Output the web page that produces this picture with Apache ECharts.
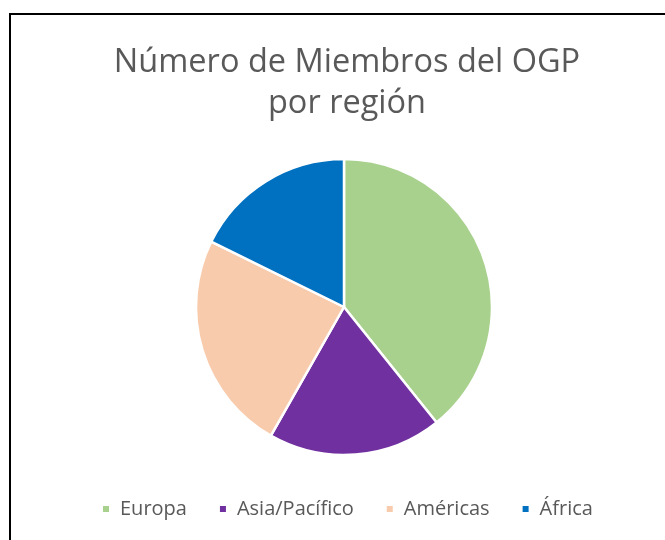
<!DOCTYPE html>
<html>
<head>
<meta charset="utf-8">
<script src="https://cdn.jsdelivr.net/npm/echarts@6/dist/echarts.min.js"></script>
<style>
html,body{margin:0;padding:0;background:#fff;}
#chart{width:665px;height:540px;}
</style>
</head>
<body>
<div id="chart"></div>
<script>
var categories = ["Europa", "Asia/Pacífico", "Américas", "África"];
var values = [31, 15, 19, 14];
var colors = ["#A9D18E", "#7030A0", "#F8CBAD", "#0070C0"];
var titleText = "Número de Miembros del OGP\npor región";

var chart = echarts.init(document.getElementById('chart'), null, {renderer: 'canvas'});
var font = "'Open Sans', 'Noto Sans', sans-serif";
chart.setOption({
  animation: false,
  color: colors,
  title: {
    text: titleText,
    left: 342,
    top: 37,
    textAlign: 'center',
    textStyle: {
      fontFamily: font,
      fontSize: 32.5,
      fontWeight: 'normal',
      color: '#595959',
      lineHeight: 41
    }
  },
  legend: {
    data: categories,
    bottom: 16,
    left: 96,
    icon: 'rect',
    itemWidth: 8,
    itemHeight: 8,
    itemGap: 31,
    textStyle: {
      fontFamily: font,
      fontSize: 20,
      color: '#595959',
      padding: [0, 0, 0, 5]
    }
  },
  graphic: [
    {type: 'line', shape: {x1: 10, y1: 14, x2: 10, y2: 540}, style: {stroke: '#000', lineWidth: 2}},
    {type: 'line', shape: {x1: 9, y1: 14, x2: 665, y2: 14}, style: {stroke: '#000', lineWidth: 2}}
  ],
  series: [{
    type: 'pie',
    center: [344, 307],
    radius: 148,
    startAngle: 90,
    clockwise: true,
    label: {show: false},
    labelLine: {show: false},
    emphasis: {disabled: true},
    itemStyle: {borderColor: '#fff', borderWidth: 2.5},
    data: categories.map(function (c, i) { return {name: c, value: values[i]}; })
  }]
});
</script>
</body>
</html>
